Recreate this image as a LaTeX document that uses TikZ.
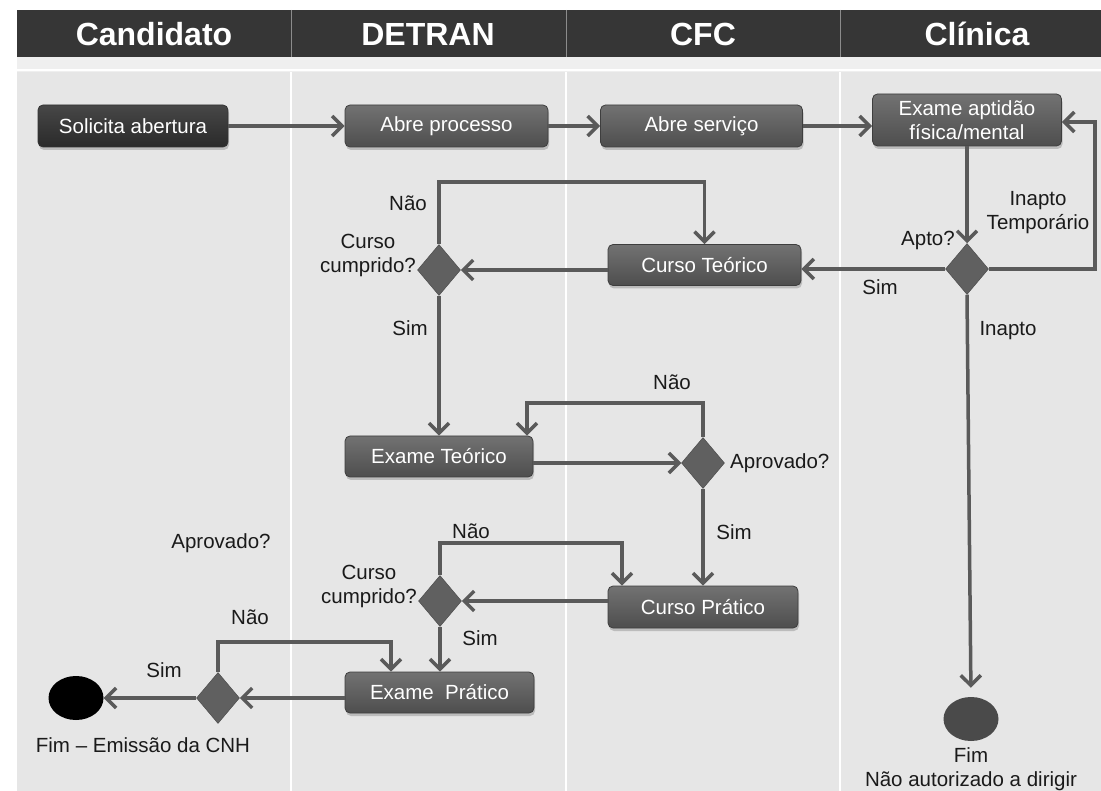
\documentclass[tikz,border=0pt]{standalone}
\usepackage{fontspec}
\setmainfont{Liberation Sans}
\usetikzlibrary{arrows.meta,shapes.geometric,shadows,calc}
\definecolor{hdr}{HTML}{363636}
\definecolor{bgc}{HTML}{E6E6E6}
\definecolor{bandc}{HTML}{EFEFEF}
\definecolor{ln}{HTML}{5A5A5A}
\definecolor{boxtop}{HTML}{727272}
\definecolor{boxbot}{HTML}{4E4E4E}
\definecolor{boxdr}{HTML}{3E3E3E}
\definecolor{darktop}{HTML}{474747}
\definecolor{darkbot}{HTML}{2A2A2A}
\definecolor{diac}{HTML}{606060}
\definecolor{fimc}{HTML}{4A4A4A}
\definecolor{txt}{HTML}{1A1A1A}
\begin{document}
\begin{tikzpicture}[x=1pt,y=-1pt,
  box/.style={rectangle, rounded corners=5pt, draw=boxdr, line width=0.8pt,
    top color=boxtop, bottom color=boxbot, text=white,
    font=\fontsize{20.5}{24}\selectfont, minimum height=42pt, inner sep=0pt, align=center,
    drop shadow={shadow xshift=1pt, shadow yshift=-3pt, fill=black, opacity=0.18}},
  darkbox/.style={box, top color=darktop, bottom color=darkbot, draw=black!80},
  dia/.style={diamond, fill=diac, draw=diac!80!black, line width=0.5pt, minimum width=43pt, minimum height=51pt, inner sep=0pt},
  endc/.style={ellipse, minimum width=55pt, minimum height=44pt, inner sep=0pt},
  arr/.style={draw=ln, line width=3.5pt, -{Straight Barb[length=10pt,width=20pt]}},
  lbl/.style={font=\fontsize{20.5}{24}\selectfont, text=txt, inner sep=0pt, align=center},
  hdrtxt/.style={font=\fontsize{32}{36}\selectfont\bfseries, text=white, inner sep=0pt}]
\useasboundingbox (0,0) rectangle (1101,791);
% background
\fill[white] (0,0) rectangle (1101,791);
\fill[bandc] (17,57) rectangle (1101,72);
\fill[bgc] (17,72) rectangle (1101,791);
\draw[white, line width=2pt] (17,70) -- (1101,70);
\fill[hdr] (17,10) rectangle (1101,57);
\foreach \sx in {291,566,840} {
  \draw[white, line width=2.5pt] (\sx,72) -- (\sx,791);
  \draw[black!45, line width=1pt] (\sx,10) -- (\sx,57);
}
% headers
\node[hdrtxt] (h1) at (154,34) {Candidato};
\node[hdrtxt] (h2) at (428,34) {DETRAN};
\node[hdrtxt] (h3) at (703,34) {CFC};
\node[hdrtxt] (h4) at (977,34) {Clínica};
% nodes
\node[darkbox, minimum width=190pt] (sol) at (133,126) {Solicita abertura};
\node[box, minimum width=203pt] (ap) at (446.5,126) {Abre processo};
\node[box, minimum width=202pt] (as) at (701.5,126) {Abre serviço};
\node[box, minimum width=189pt, minimum height=52pt] (ex) at (967,120) {Exame aptidão\\física/mental};
\node[dia] (apto) at (967,269) {};
\node[box, minimum width=193pt, minimum height=41pt] (ct) at (704.5,265) {Curso Teórico};
\node[dia] (cc1) at (439,270) {};
\node[box, minimum width=188pt, minimum height=41pt] (et) at (439,456.5) {Exame Teórico};
\node[dia] (ap1) at (703,463) {};
\node[box, minimum width=190pt, minimum height=42pt] (cp) at (703,607) {Curso Prático};
\node[dia] (cc2) at (440,601) {};
\node[box, minimum width=189pt, minimum height=41pt] (ep) at (439.5,692.5) {Exame\ \ Prático};
\node[dia] (ap2) at (218,698) {};
\node[endc, fill=black] (f1) at (76,698) {};
\node[endc, fill=fimc] (f2) at (971,719) {};
% coordinates
\coordinate (fb) at (1095,122);
\coordinate (l1) at (439,182);
\coordinate (l2) at (527,403);
\coordinate (l3) at (622,543);
\coordinate (l4) at (391,642);
% connectors
\draw[arr] (sol.east) -- (ap.west);
\draw[arr] (ap.east) -- (as.west);
\draw[arr] (as.east) -- (as.east -| ex.west);
\draw[arr] (ex.south) -- (apto.north);
\draw[arr] (apto.east) -| (fb) -- (fb -| ex.east);
\draw[arr] (apto.west) -- (apto.west -| ct.east);
\draw[arr, shorten >=9pt] (apto.south) -- (f2.north);
\draw[arr] (ct.west |- cc1.east) -- (cc1.east);
\draw[arr] (cc1.north) -- (l1) -| (ct.north);
\draw[arr] (cc1.south) -- (cc1.south |- et.north);
\draw[arr] (et.east |- ap1.west) -- (ap1.west);
\draw[arr] (ap1.north) |- (l2) -- (l2 |- et.north);
\draw[arr] (ap1.south) -- (ap1.south |- cp.north);
\draw[arr] (cp.west |- cc2.east) -- (cc2.east);
\draw[arr] (cc2.north) |- (l3) -- (l3 |- cp.north);
\draw[arr] (cc2.south) -- (cc2.south |- ep.north);
\draw[arr] (ep.west |- ap2.east) -- (ap2.east);
\draw[arr] (ap2.north) |- (l4) -- (l4 |- ep.north);
\draw[arr] (ap2.west) -- (f1.east);
% labels
\node[lbl] (t1) at (408,203) {Não};
\node[lbl] (t2) at (368,255) {Curso\\cumprido?};
\node[lbl] (t3) at (410,328) {Sim};
\node[lbl] (t4) at (672,382) {Não};
\node[lbl, anchor=west] (t5) at (730,463) {Aprovado?};
\node[lbl] (t6) at (734,532) {Sim};
\node[lbl] (t7) at (471,531) {Não};
\node[lbl] (t8) at (369,586) {Curso\\cumprido?};
\node[lbl] (t9) at (480,638) {Sim};
\node[lbl] (t10) at (221,543) {Aprovado?};
\node[lbl] (t11) at (250,617) {Não};
\node[lbl] (t12) at (164,670) {Sim};
\node[lbl] (t13) at (143,745) {Fim – Emissão da CNH};
\node[lbl] (t14) at (928,240) {Apto?};
\node[lbl] (t15) at (1038,213) {Inapto\\Temporário};
\node[lbl] (t16) at (880,287) {Sim};
\node[lbl] (t17) at (1008,331) {Inapto};
\node[lbl] (t18) at (971,769) {Fim\\Não autorizado a dirigir};
\end{tikzpicture}
\end{document}
